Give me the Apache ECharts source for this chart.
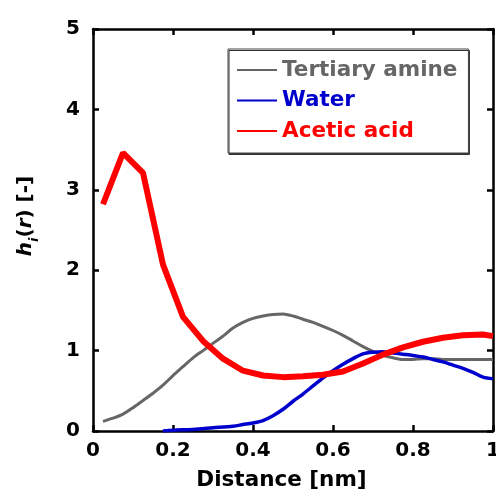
<!DOCTYPE html>
<html><head><meta charset="utf-8">
<script src="https://cdn.jsdelivr.net/npm/echarts@6/dist/echarts.min.js"></script>
<style>html,body{margin:0;padding:0;background:#fff}#c{width:496px;height:492px}</style>
</head><body><div id="c"></div>
<script>
const xTicks = [0, 0.2, 0.4, 0.6, 0.8, 1];
const yTicks = [0, 1, 2, 3, 4, 5];
const seriesNames = ['Tertiary amine', 'Water', 'Acetic acid'];

const amineX = [0.025,0.05,0.075,0.1,0.125,0.15,0.175,0.2,0.225,0.25,0.275,0.3,0.325,0.35,0.375,0.4,0.425,0.45,0.475,0.5,0.525,0.55,0.575,0.6,0.625,0.65,0.675,0.7,0.725,0.75,0.775,0.8,0.825,0.85,0.875,0.9,0.95,1.0];
const amineY = [0.12,0.16,0.21,0.29,0.38,0.47,0.57,0.69,0.80,0.91,1.00,1.09,1.18,1.28,1.35,1.40,1.43,1.45,1.455,1.43,1.39,1.35,1.30,1.25,1.19,1.12,1.05,0.99,0.94,0.91,0.89,0.89,0.90,0.90,0.89,0.89,0.89,0.89];

const waterX = [0.175,0.2,0.25,0.3,0.35,0.375,0.4,0.425,0.45,0.475,0.5,0.525,0.55,0.575,0.6,0.625,0.65,0.675,0.7,0.725,0.75,0.775,0.8,0.825,0.85,0.875,0.9,0.925,0.95,0.975,1.0];
const waterY = [0.0,0.01,0.02,0.04,0.06,0.08,0.10,0.13,0.19,0.27,0.37,0.46,0.56,0.66,0.75,0.83,0.90,0.96,0.98,0.985,0.97,0.955,0.94,0.92,0.89,0.86,0.82,0.78,0.73,0.67,0.65];

const acidX = [0.025,0.075,0.125,0.175,0.225,0.275,0.325,0.375,0.425,0.475,0.525,0.575,0.625,0.675,0.725,0.775,0.825,0.875,0.925,0.975,1.0];
const acidY = [2.82,3.46,3.21,2.07,1.42,1.12,0.90,0.75,0.69,0.67,0.68,0.70,0.74,0.84,0.95,1.04,1.11,1.16,1.19,1.20,1.18];

const zip = (xs, ys) => xs.map((x, i) => [x, ys[i]]);
const F = '"DejaVu Sans", "Liberation Sans", sans-serif';

const chart = echarts.init(document.getElementById('c'), null, {renderer: 'canvas'});
const axisLineStyle = {color: '#000', width: 2.5};
const tick = {inside: true, length: 6, lineStyle: {width: 2.5, color: '#000'}};
chart.setOption({
  animation: false,
  grid: {left: 93, right: 3, top: 29, bottom: 61, outerBoundsMode: 'none', containLabel: false},
  legend: {
    orient: 'vertical', left: 228, top: 49,
    padding: [10, 11, 11, 8],
    borderColor: '#444', borderWidth: 1,
    shadowColor: '#333', shadowOffsetX: 1, shadowOffsetY: 1.5, shadowBlur: 0,
    itemWidth: 40, itemHeight: 14, itemGap: 8.5,
    itemStyle: {opacity: 0},
    backgroundColor: '#fff',
    data: [
      {name: seriesNames[0], textStyle: {color: '#666666'}},
      {name: seriesNames[1], textStyle: {color: '#0000cc'}},
      {name: seriesNames[2], textStyle: {color: '#ff0000'}}
    ],
    textStyle: {fontFamily: F, fontWeight: 'bold', fontSize: 21.5, lineHeight: 22}
  },
  xAxis: [{
    type: 'value', min: xTicks[0], max: xTicks[xTicks.length - 1], interval: 0.2,
    name: 'Distance [nm]', nameLocation: 'middle', nameGap: 38,
    nameTextStyle: {fontFamily: F, fontWeight: 'bold', fontSize: 21.5, color: '#000', padding: [0, 23, 0, 0]},
    axisLine: {onZero: false, lineStyle: axisLineStyle},
    axisTick: tick,
    axisLabel: {fontFamily: F, fontWeight: 'bold', fontSize: 20, color: '#000', margin: 10},
    splitLine: {show: false}
  }, {
    type: 'value', position: 'top', min: 0, max: 1, interval: 0.2,
    axisLine: {onZero: false, lineStyle: axisLineStyle},
    axisTick: tick,
    axisLabel: {show: false}, splitLine: {show: false}
  }],
  yAxis: [{
    type: 'value', min: yTicks[0], max: yTicks[yTicks.length - 1], interval: 1,
    name: '{h|h}{i|i}{p|(}{h|r}{p|) [-]}', nameLocation: 'middle', nameGap: 57, nameRotate: 90,
    nameTextStyle: {
      fontFamily: F, fontWeight: 'bold', fontSize: 20, color: '#000', padding: [0, 0, 0, 28],
      rich: {
        h: {fontFamily: F, fontWeight: 'bold', fontStyle: 'italic', fontSize: 20, color: '#000', lineHeight: 24, verticalAlign: 'bottom'},
        i: {fontFamily: F, fontWeight: 'bold', fontStyle: 'italic', fontSize: 13, color: '#000', lineHeight: 24, verticalAlign: 'bottom', padding: [0, 0, -5, 0]},
        p: {fontFamily: F, fontWeight: 'bold', fontSize: 20, color: '#000', lineHeight: 24, verticalAlign: 'bottom'}
      }
    },
    axisLine: {onZero: false, lineStyle: axisLineStyle},
    axisTick: tick,
    axisLabel: {fontFamily: F, fontWeight: 'bold', fontSize: 20, color: '#000', margin: 13},
    splitLine: {show: false}
  }, {
    type: 'value', position: 'right', min: 0, max: 5, interval: 1,
    axisLine: {onZero: false, lineStyle: axisLineStyle},
    axisTick: tick,
    axisLabel: {show: false}, splitLine: {show: false}
  }],
  series: [
    {name: seriesNames[0], type: 'line', data: zip(amineX, amineY), smooth: 0.3, symbol: 'none',
     lineStyle: {color: '#666666', width: 3}, itemStyle: {color: '#666666'}, z: 3},
    {name: seriesNames[1], type: 'line', data: zip(waterX, waterY), smooth: 0.3, symbol: 'none',
     lineStyle: {color: '#0000cc', width: 3.5}, itemStyle: {color: '#0000cc'}, z: 4},
    {name: seriesNames[2], type: 'line', data: zip(acidX, acidY), smooth: false, symbol: 'none',
     lineStyle: {color: '#ff0000', width: 6}, itemStyle: {color: '#ff0000'}, z: 5}
  ]
});
</script></body></html>
